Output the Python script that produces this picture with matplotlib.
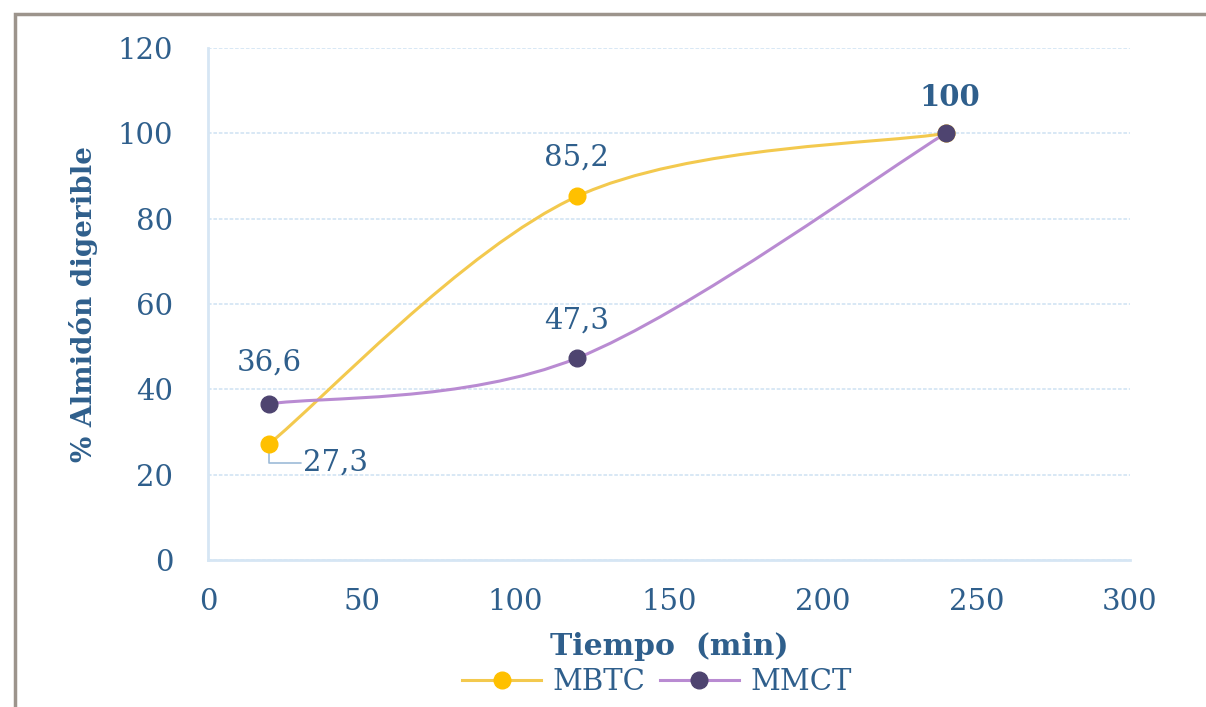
import matplotlib
matplotlib.use("Agg")
import matplotlib.pyplot as plt
from matplotlib.path import Path
from matplotlib.patches import PathPatch, Rectangle
from matplotlib.lines import Line2D

# ---- data ----
time_min = [20, 120, 240]
mbtc = [27.3, 85.2, 100]
mmct = [36.6, 47.3, 100]
mbtc_labels = ["27,3", "85,2", ""]
mmct_labels = ["36,6", "47,3", "100"]
x_ticks = [0, 50, 100, 150, 200, 250, 300]
y_ticks = [0, 20, 40, 60, 80, 100, 120]

TXT = "#2F5F8C"
GRID = "#D6E6F4"
FONT = "DejaVu Serif"
FS = 21

fig = plt.figure(figsize=(12.06, 7.07), dpi=100)
ax = fig.add_axes([208/1206, 1-560/707, (1130-208)/1206, (560-48)/707])

# outer frame
fig.patches.append(Rectangle((15/1206, -0.05), 1.1, 1-14/707+0.05, transform=fig.transFigure,
                             fill=False, edgecolor="#9C948C", linewidth=2.5))


def smooth_path(xs, ys):
    pts = list(zip(xs, ys))
    n = len(pts)
    verts = [pts[0]]
    codes = [Path.MOVETO]
    for i in range(n - 1):
        p0 = pts[i - 1] if i > 0 else pts[i]
        p1 = pts[i]
        p2 = pts[i + 1]
        p3 = pts[i + 2] if i + 2 < n else pts[i + 1]
        c1 = (p1[0] + (p2[0] - p0[0]) / 6, p1[1] + (p2[1] - p0[1]) / 6)
        c2 = (p2[0] - (p3[0] - p1[0]) / 6, p2[1] - (p3[1] - p1[1]) / 6)
        verts += [c1, c2, p2]
        codes += [Path.CURVE4] * 3
    return Path(verts, codes)


series = [
    ("MBTC", mbtc, "#F3C94E", "#FFC000"),
    ("MMCT", mmct, "#B98BD2", "#4E4470"),
]
for name, ys, lc, mc in series:
    ax.add_patch(PathPatch(smooth_path(time_min, ys), fill=False, edgecolor=lc,
                           linewidth=2.2, zorder=3))
    ax.plot(time_min, ys, linestyle="none", marker="o", markersize=12,
            markerfacecolor=mc, markeredgecolor=mc, zorder=4)

ax.set_xlim(0, 300)
ax.set_ylim(0, 120)
ax.set_xticks(x_ticks)
ax.set_yticks(y_ticks)
ax.tick_params(length=0, labelsize=FS, labelcolor=TXT)
ax.tick_params(axis="y", pad=25)
ax.tick_params(axis="x", pad=20)
for lab in ax.get_xticklabels() + ax.get_yticklabels():
    lab.set_fontfamily(FONT)

ax.grid(axis="y", color=GRID, linestyle=(0, (2, 1)), linewidth=1.3)
ax.set_axisbelow(True)
for s in ["top", "right"]:
    ax.spines[s].set_visible(False)
ax.spines["left"].set_color(GRID)
ax.spines["left"].set_linewidth(2)
ax.spines["bottom"].set_color(GRID)
ax.spines["bottom"].set_linewidth(2)

ax.set_xlabel("Tiempo  (min)", fontsize=21.5, fontweight="bold", color=TXT,
              fontfamily=FONT, labelpad=12)
ax.set_ylabel("% Almidón digerible", fontsize=20, fontweight="bold", color=TXT,
              fontfamily=FONT, labelpad=14)

# data labels
common = dict(textcoords="offset pixels", va="center", fontsize=FS, color=TXT, fontfamily=FONT)
ax.annotate(mmct_labels[0], (time_min[0], mmct[0]), xytext=(0, 41), ha="center", **common)
ax.annotate(mmct_labels[1], (time_min[1], mmct[1]), xytext=(0, 38), ha="center", **common)
ax.annotate(mmct_labels[2], (time_min[2], mmct[2]), xytext=(4, 36), ha="center",
            fontweight="bold", **common)
ax.annotate(mbtc_labels[1], (time_min[1], mbtc[1]), xytext=(0, 39), ha="center", **common)
ax.annotate(mbtc_labels[0], (time_min[0], mbtc[0]), xytext=(34, -19), ha="left",
            arrowprops=dict(arrowstyle="-", color="#9DBBD8", lw=1.2, shrinkA=0, shrinkB=6,
                            connectionstyle="angle,angleA=0,angleB=90,rad=0"), **common)

handles = [
    Line2D([], [], color=series[0][2], lw=2.2, marker="o", markersize=12,
           markerfacecolor=series[0][3], markeredgecolor=series[0][3]),
    Line2D([], [], color=series[1][2], lw=2.2, marker="o", markersize=12,
           markerfacecolor=series[1][3], markeredgecolor=series[1][3]),
]
leg = fig.legend(handles, ["MBTC", "MMCT"], loc="center", bbox_to_anchor=(657/1206, 1-682/707),
                 ncol=2, frameon=False, handlelength=2.7, columnspacing=0.5, handletextpad=0.4,
                 prop={"family": FONT, "size": FS})
for t in leg.get_texts():
    t.set_color(TXT)

fig.savefig("out.png", dpi=100)
